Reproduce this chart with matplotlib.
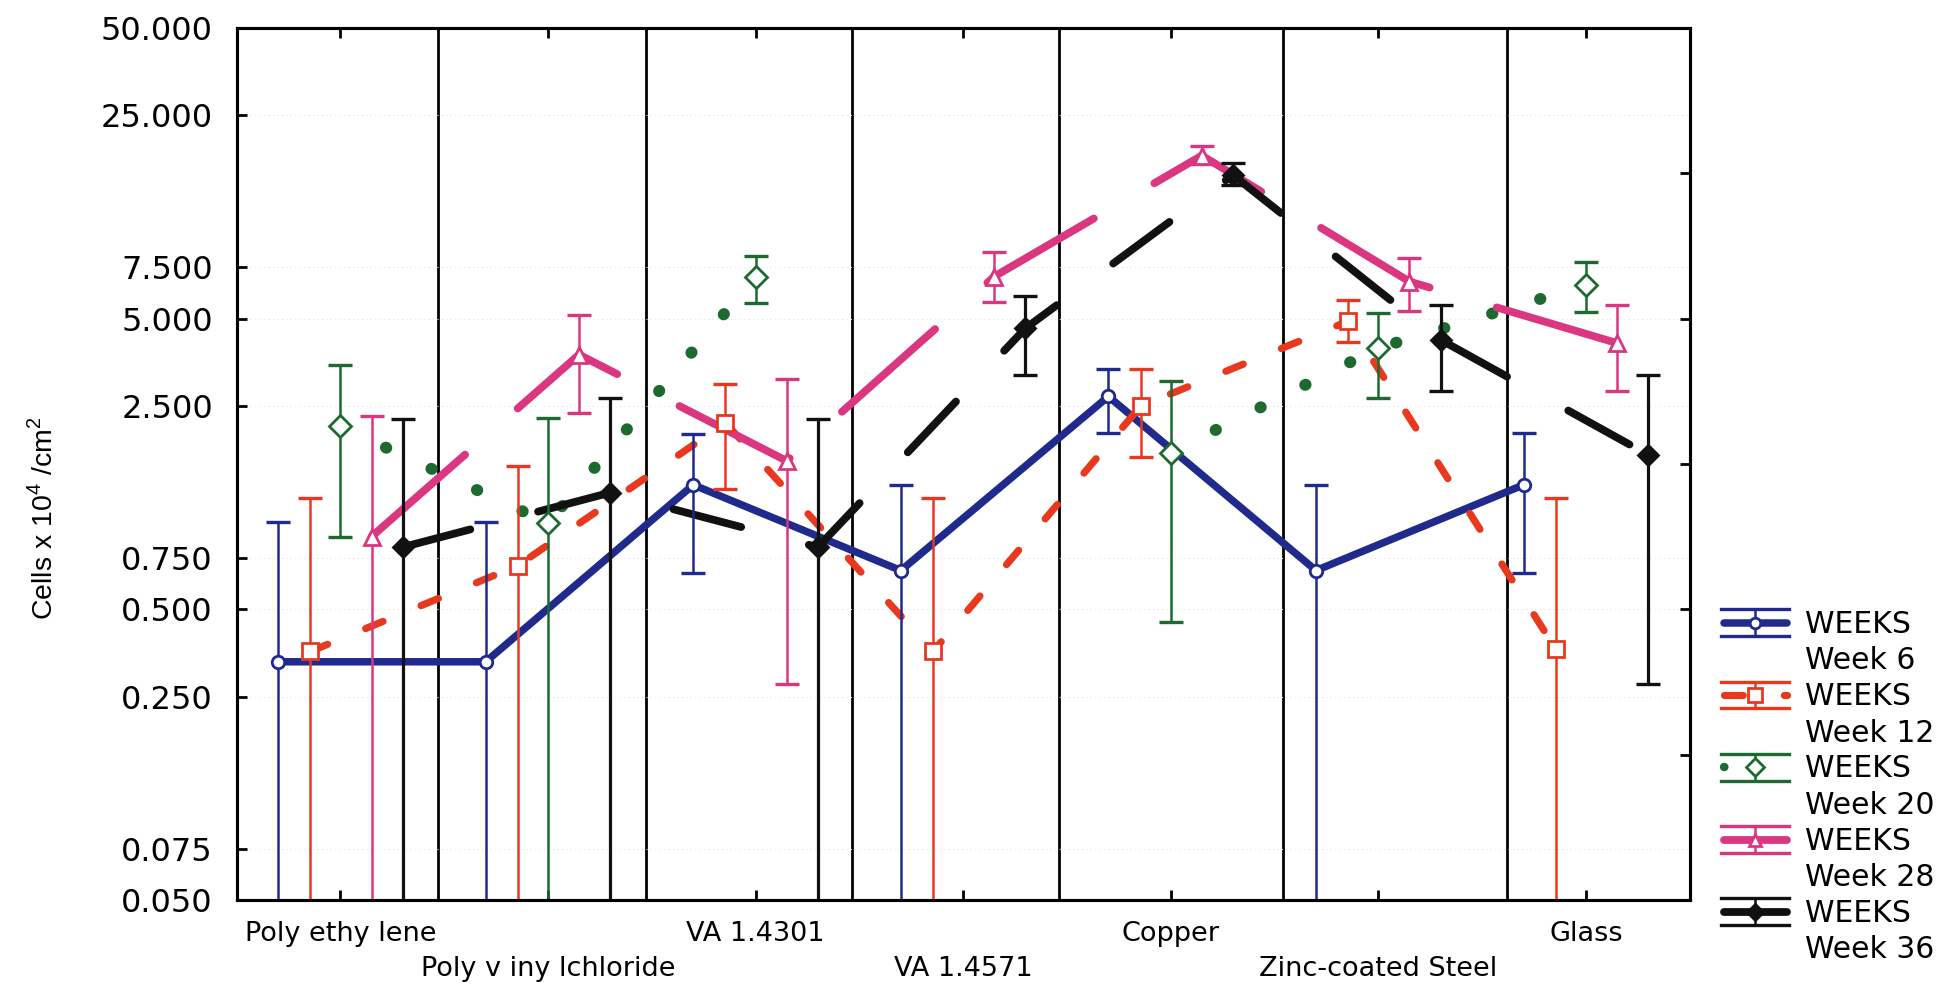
import numpy as np
import matplotlib.pyplot as plt
from matplotlib.lines import Line2D
from matplotlib.legend_handler import HandlerBase
from matplotlib.ticker import NullLocator

plt.rcParams['font.family'] = ['DejaVu Sans']
plt.rcParams['mathtext.fontset'] = 'custom'
plt.rcParams['mathtext.rm'] = 'Liberation Sans'

materials = ["Poly ethy lene", "Poly v iny lchloride", "VA 1.4301", "VA 1.4571",
             "Copper", "Zinc-coated Steel", "Glass"]
weeks = ["Week 6", "Week 12", "Week 20", "Week 28", "Week 36"]

# mean and error bar ends, cells x 10^4 / cm^2 (low of 0: bar runs off the axis)
week6_mean = [0.33, 0.33, 1.34, 0.68, 2.70, 0.68, 1.34]
week6_low = [0, 0, 0.665, 0, 2.02, 0, 0.665]
week6_high = [1.00, 1.00, 2.00, 1.34, 3.35, 1.34, 2.02]

week12_mean = [0.358, 0.707, 2.19, 0.358, 2.50, 4.90, 0.365]
week12_low = [0, 0, 1.30, 0, 1.67, 4.17, 0]
week12_high = [1.21, 1.56, 2.97, 1.21, 3.35, 5.80, 1.21]

week20_mean = [2.13, 0.99, 6.98, np.nan, 1.73, 3.96, 6.52]
week20_low = [0.885, 0, 5.65, np.nan, 0.451, 2.66, 5.25]
week20_high = [3.45, 2.27, 8.21, np.nan, 3.06, 5.22, 7.86]

week28_mean = [0.889, 3.76, 1.62, 6.98, 18.2, 6.71, 4.12]
week28_low = [0, 2.37, 0.277, 5.72, 17.0, 5.30, 2.81]
week28_high = [2.32, 5.15, 3.09, 8.51, 19.6, 8.10, 5.57]

week36_mean = [0.818, 1.26, 0.818, 4.63, 15.6, 4.23, 1.70]
week36_low = [0, 0, 0, 3.21, 14.4, 2.81, 0.277]
week36_high = [2.25, 2.66, 2.25, 5.98, 17.1, 5.57, 3.21]

# vertical divider lines, in material-index units
dividers = [0.47, 1.47, 2.465, 3.46, 4.54, 5.62]

yticks = [0.05, 0.075, 0.25, 0.5, 0.75, 2.5, 5, 7.5, 25, 50]
right_ticks = [0.158, 0.5, 1.58, 5.0, 15.8]

means = [week6_mean, week12_mean, week20_mean, week28_mean, week36_mean]
lows = [week6_low, week12_low, week20_low, week28_low, week36_low]
highs = [week6_high, week12_high, week20_high, week28_high, week36_high]

styles = [
    dict(color='#1f2a8c', lw=5.4, ls='-', marker='o', ms=9, mfc='white', elw=1.8),
    dict(color='#e8391f', lw=5.2, ls=(0, (2.6, 5.7)), marker='s', ms=12, mfc='white', elw=1.8),
    dict(color='#1d6a31', lw=8.5, ls=(0, (0.05, 4.2)), marker='D', ms=11, mfc='white', elw=1.8),
    dict(color='#da3780', lw=5.6, ls=(0, (16, 9)), marker='^', ms=11, mfc='white', elw=1.8),
    dict(color='#111111', lw=5.6, ls=(0, (9, 9)), marker='D', ms=10, mfc='#111111', elw=2.3),
]
offsets = [-0.3, -0.145, 0.0, 0.15, 0.3]


class WeekHandler(HandlerBase):
    """Legend key: series line, marker and a wide error bar."""

    def __init__(self, style):
        super().__init__()
        self.style = style

    def create_artists(self, legend, orig_handle, xdescent, ydescent,
                       width, height, fontsize, trans):
        st = self.style
        x0, x1 = -xdescent, width - xdescent
        xm = 0.5 * (x0 + x1)
        yc = 0.5 * height - ydescent + 0.70 * fontsize
        h = 0.45 * fontsize
        body = Line2D([x0 + 3, x1 - 3], [yc, yc], color=st['color'],
                      lw=min(st['lw'], 6.0), ls=st['ls'],
                      dash_capstyle='round', solid_capstyle='round')
        top = Line2D([x0 + 1, x1 - 1], [yc + h, yc + h], color=st['color'], lw=2.4)
        bot = Line2D([x0 + 1, x1 - 1], [yc - h, yc - h], color=st['color'], lw=2.4)
        stem = Line2D([xm, xm], [yc - h, yc + h], color=st['color'], lw=1.8)
        mark = Line2D([xm], [yc], ls='none', marker=st['marker'], ms=st['ms'] * 0.85,
                      mfc=st['mfc'], mec=st['color'], mew=2)
        arts = [body, top, bot, stem, mark]
        for a in arts:
            a.set_transform(trans)
        return arts


fig = plt.figure(figsize=(19.52, 9.85), dpi=100)
ax = fig.add_axes([0.1212, 0.0863, 0.7444, 0.8853])
ax.set_yscale('log', nonpositive='clip')

x = np.arange(len(materials))
proxies = []
handler_map = {}
for i, st in enumerate(styles):
    xs = x + offsets[i]
    m = np.array(means[i], dtype=float)
    lo = np.array(lows[i], dtype=float)
    hi = np.array(highs[i], dtype=float)
    ax.plot(xs, m, color=st['color'], lw=st['lw'], ls=st['ls'],
            dash_capstyle='round', solid_joinstyle='miter', zorder=2)
    ax.errorbar(xs, m, yerr=[m - lo, hi - m], fmt='none', ecolor=st['color'],
                elinewidth=st['elw'], capsize=8.5, capthick=2.4, zorder=3)
    ax.plot(xs, m, ls='none', marker=st['marker'], ms=st['ms'], mfc=st['mfc'],
            mec=st['color'], mew=2, zorder=4)
    proxy = Line2D([], [], color=st['color'])
    proxies.append(proxy)
    handler_map[proxy] = WeekHandler(st)

for d in dividers:
    ax.axvline(d, color='black', lw=2.0, zorder=1.5)

ax.set_xlim(-0.5, len(materials) - 0.5)
ax.set_ylim(0.05, 50)
ax.grid(axis='y', which='major', color='#e4e4e4', ls=(0, (1, 3)), lw=0.8, zorder=0)

ax.set_xticks(x[::2], materials[::2])
ax.set_xticks(x[1::2], materials[1::2], minor=True)
ax.tick_params(axis='x', which='both', direction='in', top=True, length=7,
               width=2, labelsize=19.5)
ax.tick_params(axis='x', which='major', pad=15)
ax.tick_params(axis='x', which='minor', pad=40)

ax.set_yticks(yticks, [f"{t:.3f}" for t in yticks])
ax.yaxis.set_minor_locator(NullLocator())
ax.tick_params(axis='y', direction='in', length=7, width=2, labelsize=23, pad=17)

for sp in ax.spines.values():
    sp.set_linewidth(2.2)

# unlabeled half-decade ticks on the right edge
ax2 = ax.twinx()
ax2.set_yscale('log')
ax2.set_ylim(0.05, 50)
ax2.set_yticks(right_ticks)
ax2.yaxis.set_minor_locator(NullLocator())
ax2.set_yticklabels([])
ax2.tick_params(axis='y', direction='in', length=7, width=2)
for sp in ax2.spines.values():
    sp.set_linewidth(2.2)

fig.text(0.0223, 0.474, r'Cells x 10$^\mathregular{4}$ /cm$^\mathregular{2}$',
         rotation=90, ha='center', va='center', fontsize=20.5,
         family=['Liberation Sans', 'DejaVu Sans'])

leg = ax2.legend(proxies, [f"WEEKS\n{w}" for w in weeks], handler_map=handler_map,
                 loc='upper left', bbox_to_anchor=(1720 / 1952, 1 - 610 / 985),
                 bbox_transform=fig.transFigure, frameon=False, borderpad=0,
                 borderaxespad=0, handlelength=2.37, handletextpad=0.47,
                 labelspacing=0.23, fontsize=21.5)
for t in leg.get_texts():
    t.set_linespacing(1.32)

fig.savefig('out.png', dpi=100)
